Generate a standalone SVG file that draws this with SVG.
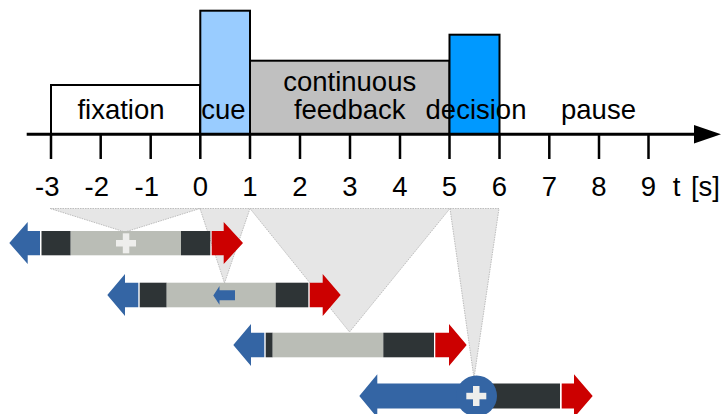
<svg xmlns="http://www.w3.org/2000/svg" width="721" height="414" viewBox="0 0 721 414">
<style>
  text { font-family: "Liberation Sans", Arial, sans-serif; font-size: 27.5px; fill: #000; }
  .ph { stroke: #000; stroke-width: 2; }
  .tick { stroke: #000; stroke-width: 2.5; }
  .wedge { fill: #E6E6E6; stroke: #BDBDBD; stroke-width: 1; stroke-dasharray: 1.5 1; }
  .blue { fill: #3465A4; }
  .dark { fill: #2E3436; }
  .gray { fill: #BABDB6; }
  .red { fill: #CC0000; }
  .cross { fill: #EEEEEC; }
</style>
<rect width="721" height="414" fill="#fff"/>

<g id="phases">
  <g id="fixation">
    <path class="ph" d="M51,134 V85 H200 V134" fill="#fff"/>
    <text x="121" y="119" text-anchor="middle">fixation</text>
  </g>
  <g id="cue">
    <rect class="ph" x="200.3" y="10.7" width="49.7" height="123.3" fill="#99CCFF"/>
    <text x="223.5" y="119" text-anchor="middle">cue</text>
  </g>
  <g id="feedback">
    <rect class="ph" x="250" y="60.7" width="199.5" height="73.3" fill="#C0C0C0"/>
    <text x="349.7" y="90.7" text-anchor="middle">continuous</text>
    <text x="349.7" y="118.5" text-anchor="middle">feedback</text>
  </g>
  <g id="decision">
    <rect class="ph" x="449.5" y="34.7" width="50" height="99.3" fill="#0099FF"/>
    <text x="476" y="119" text-anchor="middle">decision</text>
  </g>
  <g id="pause">
    <text x="598.5" y="119" text-anchor="middle">pause</text>
  </g>
</g>

<g id="axis">
  <line x1="26.7" y1="134.3" x2="696" y2="134.3" stroke="#000" stroke-width="3"/>
  <polygon points="694,125 721,134.3 694,143.5" fill="#000"/>
  <g class="tick">
    <line x1="51" y1="134" x2="51" y2="159"/>
    <line x1="100.7" y1="134" x2="100.7" y2="159"/>
    <line x1="150.7" y1="134" x2="150.7" y2="159"/>
    <line x1="200.3" y1="134" x2="200.3" y2="159"/>
    <line x1="250" y1="134" x2="250" y2="159"/>
    <line x1="300" y1="134" x2="300" y2="159"/>
    <line x1="350" y1="134" x2="350" y2="159"/>
    <line x1="400" y1="134" x2="400" y2="159"/>
    <line x1="449.5" y1="134" x2="449.5" y2="159"/>
    <line x1="499.5" y1="134" x2="499.5" y2="159"/>
    <line x1="549.3" y1="134" x2="549.3" y2="159"/>
    <line x1="599" y1="134" x2="599" y2="159"/>
    <line x1="648.5" y1="134" x2="648.5" y2="159"/>
  </g>
  <g id="tick-labels">
    <text x="59.5" y="195.5" text-anchor="end">-3</text>
    <text x="109" y="195.5" text-anchor="end">-2</text>
    <text x="159" y="195.5" text-anchor="end">-1</text>
    <text x="200.5" y="195.5" text-anchor="middle">0</text>
    <text x="250" y="195.5" text-anchor="middle">1</text>
    <text x="300" y="195.5" text-anchor="middle">2</text>
    <text x="350" y="195.5" text-anchor="middle">3</text>
    <text x="400" y="195.5" text-anchor="middle">4</text>
    <text x="449.5" y="195.5" text-anchor="middle">5</text>
    <text x="499.5" y="195.5" text-anchor="middle">6</text>
    <text x="549.3" y="195.5" text-anchor="middle">7</text>
    <text x="599" y="195.5" text-anchor="middle">8</text>
    <text x="648.5" y="195.5" text-anchor="middle">9</text>
    <text x="720" y="195.5" text-anchor="end" word-spacing="3">t [s]</text>
  </g>
</g>

<g id="connectors">
  <polygon class="wedge" points="50,208.5 200,208.5 125,232"/>
  <polygon class="wedge" points="200,208.5 250,208.5 224.5,283"/>
  <polygon class="wedge" points="250,208.5 450,208.5 349.5,332"/>
  <polygon class="wedge" points="450,208.5 499,208.5 474,378"/>
</g>

<g id="bar-fixation">
  <polygon class="blue" points="9.3,243 27.7,222 27.7,231 40,231 40,255.3 27.7,255.3 27.7,264"/>
  <rect class="dark" x="41.5" y="231" width="29.2" height="24.3"/>
  <rect class="gray" x="70.7" y="231" width="110.3" height="24.3"/>
  <rect class="dark" x="181" y="231" width="29.3" height="24.3"/>
  <polygon class="red" points="211.7,231 223.7,231 223.7,222 243,243 223.7,264 223.7,255.3 211.7,255.3"/>
  <rect class="cross" x="116" y="240" width="20" height="6.5"/>
  <rect class="cross" x="122.8" y="233.3" width="6.5" height="20"/>
</g>

<g id="bar-cue">
  <polygon class="blue" points="107.3,295 125,274 125,282.7 138.3,282.7 138.3,307.3 125,307.3 125,316"/>
  <rect class="dark" x="139.7" y="282.7" width="27" height="24.6"/>
  <rect class="gray" x="166.7" y="282.7" width="109" height="24.6"/>
  <rect class="dark" x="275.7" y="282.7" width="32.6" height="24.6"/>
  <polygon class="red" points="309.7,282.7 322.7,282.7 322.7,274 340.7,295 322.7,316 322.7,307.3 309.7,307.3"/>
  <polygon class="blue" points="213.3,295.5 219.5,286 219.5,290.3 235,290.3 235,300.3 219.5,300.3 219.5,304.7"/>
</g>

<g id="bar-feedback">
  <polygon class="blue" points="233.3,345 251,324 251,332.7 264.3,332.7 264.3,357.3 251,357.3 251,366"/>
  <rect class="dark" x="265.7" y="332.7" width="7" height="24.6"/>
  <rect class="gray" x="272.7" y="332.7" width="110.6" height="24.6"/>
  <rect class="dark" x="383.3" y="332.7" width="50.7" height="24.6"/>
  <polygon class="red" points="435.3,332.7 449,332.7 449,324 466.7,345 449,366 449,357.3 435.3,357.3"/>
</g>

<g id="bar-decision">
  <polygon class="blue" points="359.3,396 377.3,374.3 377.3,383.5 470,383.5 470,408.5 377.3,408.5 377.3,417.7"/>
  <rect class="dark" x="490" y="383.5" width="70" height="25"/>
  <circle class="blue" cx="476.5" cy="396" r="20.5"/>
  <polygon class="red" points="561.7,383.5 574,383.5 574,374.3 592.7,396 574,417.7 574,408.5 561.7,408.5"/>
  <rect class="cross" x="466.3" y="392.8" width="20" height="6.5"/>
  <rect class="cross" x="473" y="386" width="6.5" height="20"/>
</g>
</svg>
